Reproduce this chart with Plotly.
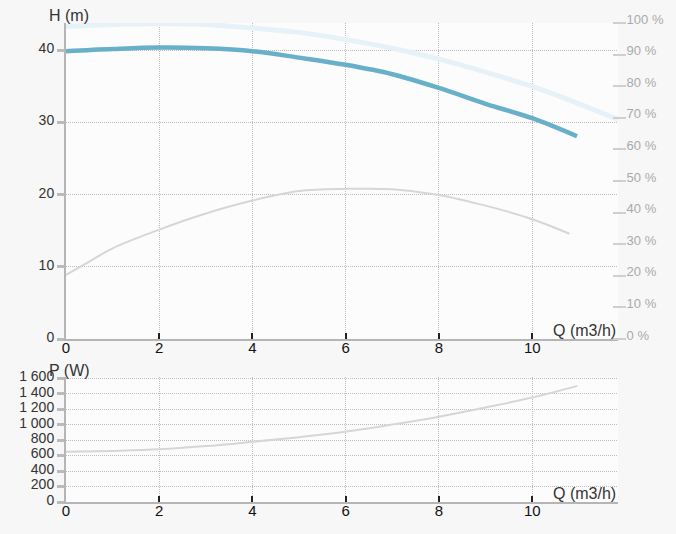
import plotly.graph_objects as go

# ---- data ----
q_h = [0, 1, 2, 3, 4, 5, 6, 7, 8, 9, 10, 10.96]
h_m = [39.9, 40.2, 40.4, 40.3, 39.9, 39.0, 38.0, 36.7, 34.8, 32.6, 30.6, 28.1]

q_hmax = [0, 1, 2, 3, 4, 5, 6, 7, 8, 9, 10, 11, 11.9]
h_max = [43.3, 43.6, 43.7, 43.6, 43.1, 42.5, 41.5, 40.3, 38.8, 37.0, 35.0, 32.6, 30.3]

q_eta = [0, 0.5, 1, 2, 3, 4, 5, 6, 7, 8, 9, 10, 10.8]
eta_pct = [20.3, 24.5, 28.7, 34.6, 39.7, 43.8, 46.8, 47.5, 47.4, 45.6, 42.2, 37.9, 33.3]

q_p = [0, 1, 2, 3, 4, 5, 6, 7, 8, 9, 10, 10.97]
p_w = [648, 660, 680, 722, 778, 838, 908, 1000, 1102, 1222, 1349, 1500]

x_ticks = [0, 2, 4, 6, 8, 10]
h_ticks = [0, 10, 20, 30, 40]
pct_ticks = [0, 10, 20, 30, 40, 50, 60, 70, 80, 90, 100]
pct_tick_text = ["0 %", "10 %", "20 %", "30 %", "40 %", "50 %", "60 %", "70 %", "80 %", "90 %", "100 %"]
p_ticks = [0, 200, 400, 600, 800, 1000, 1200, 1400, 1600]
p_tick_text = ["0", "200", "400", "600", "800", "1 000", "1 200", "1 400", "1 600"]

FONT = "Arial, Liberation Sans, sans-serif"
GRID = "#bdbdbd"
AXIS = "#b5b5b5"

fig = go.Figure()
fig.add_trace(go.Scatter(x=q_hmax, y=h_max, mode="lines", xaxis="x", yaxis="y",
                         line=dict(color="#e6f2f7", width=5), line_shape="spline", hoverinfo="skip"))
fig.add_trace(go.Scatter(x=q_eta, y=eta_pct, mode="lines", xaxis="x", yaxis="y3",
                         line=dict(color="#d6d6d6", width=2), line_shape="spline"))
fig.add_trace(go.Scatter(x=q_h, y=h_m, mode="lines", xaxis="x", yaxis="y",
                         line=dict(color="#68afca", width=4.5), line_shape="spline"))
fig.add_trace(go.Scatter(x=q_p, y=p_w, mode="lines", xaxis="x2", yaxis="y2",
                         line=dict(color="#d6d6d6", width=2), line_shape="spline"))

L, R, T, B = 66, 56, 23, 32
W, H = 676, 534
pw = W - L - R
ph = H - T - B
top_lo = (502 - 339) / ph
bot_hi = (502 - 377) / ph

xcommon = dict(range=[0, 11.84], tickvals=x_ticks, showgrid=True, gridcolor=GRID,
               griddash="1px,1px", gridwidth=1, ticks="inside", ticklen=6, tickwidth=2,
               tickcolor="#222", showline=True, linecolor=AXIS, linewidth=2,
               zeroline=False, ticklabelstandoff=-6,
               tickfont=dict(size=15, color="#111", family=FONT))
ycommon = dict(showgrid=True, gridcolor=GRID, griddash="1px,1px", gridwidth=1,
               ticks="outside", ticklen=7, tickwidth=3, tickcolor="#bbbbbb",
               showline=True, linecolor=AXIS, linewidth=2, zeroline=False,
               ticklabelshift=-2,
               tickfont=dict(size=14, color="#333", family=FONT))

fig.update_layout(
    width=W, height=H, margin=dict(l=L, r=R, t=T, b=B),
    paper_bgcolor="#f7f7f7", plot_bgcolor="#fcfcfc", showlegend=False,
    font=dict(family=FONT),
    xaxis=dict(domain=[0, 1], anchor="y", **xcommon),
    yaxis=dict(domain=[top_lo, 1], anchor="x", range=[0, 43.8], tickvals=h_ticks, **ycommon),
    yaxis3=dict(overlaying="y", anchor="free", side="right", position=(614 - L) / pw,
                range=[0, 100], tickvals=pct_ticks, ticktext=pct_tick_text, showgrid=False,
                showline=False, zeroline=False, ticks="outside", ticklen=13, tickwidth=2,
                tickcolor="#cfcfcf", ticklabelshift=-4, ticklabelstandoff=-2,
                tickfont=dict(size=13, color="#aaaaaa", family=FONT)),
    xaxis2=dict(domain=[0, 1], anchor="y2", **xcommon),
    yaxis2=dict(domain=[0, bot_hi], anchor="x2", range=[0, 1615], tickvals=p_ticks,
                ticktext=p_tick_text, **ycommon),
    annotations=[
        dict(text="H (m)", xref="paper", yref="paper", x=(47 - L) / pw, y=(H - B - 16) / ph,
             xanchor="left", yanchor="middle", showarrow=False,
             font=dict(size=16, color="#333", family=FONT)),
        dict(text="Q (m3/h)", xref="paper", yref="paper", x=(620 - L) / pw, y=(502 - 330) / ph,
             xanchor="right", yanchor="middle", showarrow=False,
             font=dict(size=16, color="#333", family=FONT)),
        dict(text="P (W)", xref="paper", yref="paper", x=(47 - L) / pw, y=(502 - 370) / ph,
             xanchor="left", yanchor="middle", showarrow=False,
             font=dict(size=16, color="#333", family=FONT)),
        dict(text="Q (m3/h)", xref="paper", yref="paper", x=(620 - L) / pw, y=(502 - 493) / ph,
             xanchor="right", yanchor="middle", showarrow=False,
             font=dict(size=16, color="#333", family=FONT)),
    ],
)

fig.write_html("out.html")
